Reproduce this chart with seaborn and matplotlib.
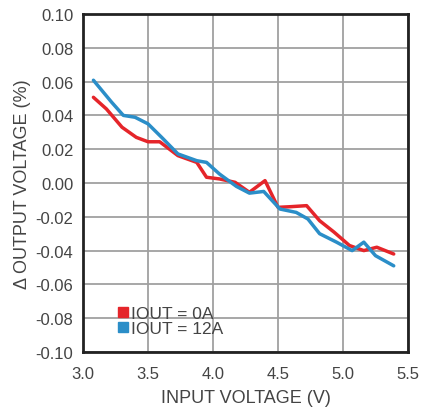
import matplotlib
matplotlib.use("Agg")
import matplotlib.pyplot as plt
import seaborn as sns
import pandas as pd
from matplotlib.lines import Line2D

x_0a = [3.08, 3.18, 3.30, 3.41, 3.50, 3.59, 3.73, 3.875, 3.95, 4.05, 4.17, 4.28, 4.40, 4.50, 4.60, 4.72, 4.82, 4.93, 5.05, 5.16, 5.26, 5.39]
y_0a = [0.0507, 0.0438, 0.033, 0.027, 0.0244, 0.0244, 0.0162, 0.0122, 0.0034, 0.0024, 0.0004, -0.0055, 0.0014, -0.0144, -0.0140, -0.0134, -0.0223, -0.029, -0.037, -0.040, -0.038, -0.042]
x_12a = [3.08, 3.22, 3.31, 3.40, 3.50, 3.605, 3.73, 3.875, 3.95, 4.05, 4.18, 4.28, 4.39, 4.515, 4.64, 4.73, 4.82, 4.95, 5.07, 5.16, 5.25, 5.39]
y_12a = [0.0608, 0.0478, 0.040, 0.0389, 0.035, 0.027, 0.0172, 0.0132, 0.0122, 0.0053, -0.002, -0.006, -0.005, -0.0154, -0.0174, -0.0213, -0.030, -0.035, -0.040, -0.035, -0.043, -0.049]
labels = ["IOUT = 0A", "IOUT = 12A"]
colors = ["#e5252a", "#2b8ec8"]
x_ticks = [3.0, 3.5, 4.0, 4.5, 5.0, 5.5]
y_ticks = [-0.10, -0.08, -0.06, -0.04, -0.02, 0.0, 0.02, 0.04, 0.06, 0.08, 0.10]

df = pd.concat([
    pd.DataFrame({"x": x_0a, "y": y_0a, "series": labels[0]}),
    pd.DataFrame({"x": x_12a, "y": y_12a, "series": labels[1]}),
])

sns.set_style("white")
plt.rcParams["font.family"] = ["Liberation Sans", "DejaVu Sans"]

fig = plt.figure(figsize=(4.24, 4.14), dpi=100)
ax = fig.add_axes([0.1958, 0.1473, 0.7665, 0.8165])

sns.lineplot(data=df, x="x", y="y", hue="series", palette=colors, sort=False,
             estimator=None, linewidth=2.5, ax=ax, legend=False)

ax.set_xlim(3.0, 5.5)
ax.set_ylim(-0.10, 0.10)
ax.set_xticks(x_ticks)
ax.set_yticks(y_ticks)
ax.set_xticklabels([f"{v:.1f}" for v in x_ticks])
ax.set_yticklabels([f"{v:.2f}" for v in y_ticks])
ax.grid(True, color="#a0a0a0", linewidth=1.3)
ax.set_axisbelow(True)
for s in ax.spines.values():
    s.set_color("#222222")
    s.set_linewidth(2.0)
ax.tick_params(axis="both", length=0, labelsize=12, labelcolor="#444444")
ax.tick_params(axis="x", pad=10)
ax.tick_params(axis="y", pad=7)
ax.set_xlabel("INPUT VOLTAGE (V)", fontsize=13, color="#444444", labelpad=6)
ax.set_ylabel("Δ OUTPUT VOLTAGE (%)", fontsize=13, color="#444444", labelpad=3)

handles = [Line2D([], [], marker="s", linestyle="none", color=c, markersize=7.5) for c in colors]
leg = ax.legend(handles, labels, loc="lower left", bbox_to_anchor=(0.058, 0.01), frameon=False,
                fontsize=12.5, handletextpad=0.0, labelspacing=0.0, borderpad=0.2, handlelength=1.0)
for t in leg.get_texts():
    t.set_color("#444444")

fig.savefig("out.png", dpi=100)
